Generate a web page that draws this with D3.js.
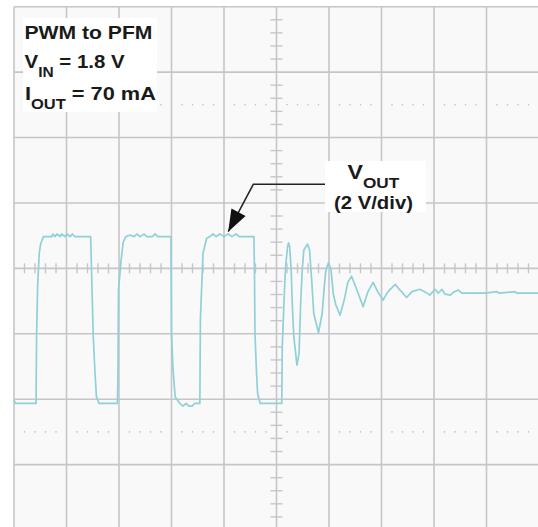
<!DOCTYPE html>
<html lang="en">
<head>
<meta charset="UTF-8">
<title>PWM to PFM - VOUT</title>
<script src="https://d3js.org/d3.v7.min.js"></script>
<style>
  body { margin: 0; background: #fff; }
  svg { display: block; }
  text { font-family: "Liberation Sans", Arial, Helvetica, sans-serif; font-weight: bold; fill: #1a1a1a; }
</style>
</head>
<body>
<svg id="scope" width="538" height="527"></svg>
<script>
// time in screen divisions, VOUT in volts (2 V/div, 0 = screen centre)
const tDiv = [0.00, 0.03, 0.42, 0.43, 0.45, 0.48, 0.51, 0.56, 0.72, 0.74, 0.78, 0.82, 0.88, 0.91, 0.97, 1.01, 1.07, 1.11, 1.16,
  1.46, 1.48, 1.51, 1.54, 1.57, 1.62, 1.97, 1.98, 1.99, 2.04, 2.08, 2.13, 2.21, 2.29, 2.34, 2.40, 2.48, 2.53, 2.63, 2.69, 2.74,
  2.99, 3.00, 3.03, 3.07, 3.16, 3.22, 3.28, 3.33, 3.39, 3.45, 3.54, 3.55, 3.58, 3.60, 3.67, 3.73, 3.79, 3.85, 3.92, 4.00, 4.08,
  4.15, 4.23, 4.29, 4.57, 4.58, 4.59, 4.62, 4.64, 4.69, 5.10, 5.11, 5.13, 5.15, 5.16, 5.18, 5.21, 5.23, 5.25, 5.28, 5.30, 5.33,
  5.39, 5.43, 5.46, 5.49, 5.52, 5.59, 5.63, 5.67, 5.71, 5.80, 5.87, 5.91, 5.94, 5.99, 6.04, 6.08, 6.13, 6.21, 6.29, 6.36, 6.43,
  6.51, 6.65, 6.74, 6.84, 6.93, 7.03, 7.12, 7.26, 7.35, 7.48, 7.58, 7.73, 7.83, 7.92, 8.02, 8.08, 8.15, 8.21, 8.31, 8.38, 8.46,
  8.53, 8.69, 8.97, 9.20, 9.24, 9.54, 9.58, 10.00];
const vOut = [-4.03, -4.13, -4.13, -2.09, -0.56, 0.46, 0.76, 0.97, 0.97, 1.05, 0.97, 1.05, 0.97, 1.05, 0.97, 1.05, 0.97, 1.05, 0.97,
  0.97, -0.26, -2.09, -3.11, -3.93, -4.13, -4.13, -3.31, -0.66, 0.25, 0.80, 0.97, 1.02, 0.97, 1.05, 0.97, 1.05, 0.97, 0.97, 1.05, 0.97,
  0.97, -1.98, -3.11, -3.93, -4.13, -4.21, -4.13, -4.21, -4.21, -4.13, -4.13, -1.58, -0.36, 0.46, 0.92, 0.97, 1.05, 0.97, 1.05, 0.97, 1.05,
  0.97, 1.05, 0.97, 0.97, -0.05, -1.99, -3.21, -3.82, -4.13, -4.13, -2.40, -1.58, -0.76, -0.36, 0.16, 0.66, 0.78, 0.66, -0.05, -1.07, -2.09,
  -2.96, -2.60, -1.07, -0.05, 0.56, 0.74, 0.56, -0.36, -1.38, -1.97, -1.38, -0.56, -0.05, 0.17, -0.05, -0.76, -1.12, -1.43, -0.97, -0.42, -0.24,
  -0.57, -1.17, -0.72, -0.43, -0.72, -0.97, -0.72, -0.49, -0.66, -0.89, -0.71, -0.64, -0.72, -0.82, -0.64, -0.76, -0.64, -0.79, -0.82, -0.72, -0.66,
  -0.76, -0.76, -0.76, -0.71, -0.76, -0.71, -0.76, -0.76];

const xDivs = d3.range(0, 11);          // 10 horizontal divisions
const yVolts = d3.range(-8, 9, 2);      // 8 vertical divisions, 2 V/div
const dotRowsV = [5, -5];               // dotted reference rows (2.5 div)
const arrowTip = { t: 4.08, v: 1.12 };

const svg = d3.select('#scope');
const x = d3.scaleLinear().domain([0, 10]).range([14, 539]);
const y = d3.scaleLinear().domain([-8, 8]).range([530, 6.7]);
const gridColor = '#c6c6ca';

svg.append('rect')
  .attr('x', x(0)).attr('y', y(8))
  .attr('width', x(10) - x(0)).attr('height', y(-8) - y(8))
  .attr('fill', '#f9f9fa');

// dotted rows
const minorT = d3.range(0, 10.001, 0.2).filter(d => Math.abs(d - Math.round(d)) > 0.01);
dotRowsV.forEach(v => {
  svg.append('g').selectAll('circle')
    .data(minorT)
    .enter().append('circle')
    .attr('cx', d => x(d)).attr('cy', y(v))
    .attr('r', 0.8).attr('fill', '#bdbdc2');
});

// grid
svg.append('g').selectAll('line')
  .data(xDivs)
  .enter().append('line')
  .attr('x1', d => x(d)).attr('x2', d => x(d))
  .attr('y1', y(8)).attr('y2', y(-8))
  .attr('stroke', gridColor).attr('stroke-width', 1.6);
svg.append('g').selectAll('line')
  .data(yVolts)
  .enter().append('line')
  .attr('y1', d => y(d)).attr('y2', d => y(d))
  .attr('x1', x(0)).attr('x2', x(10))
  .attr('stroke', gridColor).attr('stroke-width', 1.6);

// centre axis minor ticks
svg.append('g').selectAll('line')
  .data(minorT)
  .enter().append('line')
  .attr('x1', d => x(d)).attr('x2', d => x(d))
  .attr('y1', y(0) - 5).attr('y2', y(0) + 5)
  .attr('stroke', gridColor).attr('stroke-width', 1.4);
const minorV = d3.range(-8, 8.001, 0.4).filter(d => Math.abs(d / 2 - Math.round(d / 2)) > 0.01);
svg.append('g').selectAll('line')
  .data(minorV)
  .enter().append('line')
  .attr('y1', d => y(d)).attr('y2', d => y(d))
  .attr('x1', x(5) - 6).attr('x2', x(5) + 6)
  .attr('stroke', gridColor).attr('stroke-width', 1.4);

// trace
const line = d3.line().x(d => x(d[0])).y(d => y(d[1]));
svg.append('path')
  .datum(d3.zip(tDiv, vOut))
  .attr('d', line)
  .attr('fill', 'none')
  .attr('stroke', '#8fd1d6')
  .attr('stroke-width', 1.7)
  .attr('stroke-linejoin', 'round');

// stretch a text line to the width seen in the reference
function fit(t, w) {
  const b = t.node().getBBox();
  const k = w / b.width;
  t.attr('transform', `translate(${b.x},0) scale(${k},1) translate(${-b.x},0)`);
}

// condition box
svg.append('rect').attr('x', 23).attr('y', 18).attr('width', 134).attr('height', 94).attr('fill', '#fff');
const t1 = svg.append('text').attr('x', 24.5).attr('y', 39.5).attr('font-size', 18.5).text('PWM to PFM');
fit(t1, 128);
const t2 = svg.append('text').attr('x', 24.5).attr('y', 68.5).attr('font-size', 18.5);
t2.append('tspan').text('V');
t2.append('tspan').attr('font-size', 14).attr('dy', 8.5).text('IN');
t2.append('tspan').attr('dy', -8.5).text(' = 1.8 V');
fit(t2, 101);
const t3 = svg.append('text').attr('x', 25).attr('y', 100).attr('font-size', 18.5);
t3.append('tspan').text('I');
t3.append('tspan').attr('font-size', 14).attr('dy', 9.5).text('OUT');
t3.append('tspan').attr('dy', -9.5).text(' = 70 mA');
fit(t3, 131);

// VOUT label with pointer
svg.append('rect').attr('x', 325).attr('y', 161).attr('width', 101).attr('height', 51).attr('fill', '#fff');
const tipX = x(arrowTip.t), tipY = y(arrowTip.v);
const elbow = [253.3, 184.3];
svg.append('path')
  .attr('d', `M325,${elbow[1]}H${elbow[0]}L${tipX},${tipY}`)
  .attr('fill', 'none').attr('stroke', '#222').attr('stroke-width', 1.5);
const ang = Math.atan2(tipY - elbow[1], tipX - elbow[0]);
const hl = 22, hw = 8;
const bx = tipX - hl * Math.cos(ang), by = tipY - hl * Math.sin(ang);
svg.append('path')
  .attr('d', `M${tipX},${tipY}L${bx + hw * Math.sin(ang)},${by - hw * Math.cos(ang)}L${bx - hw * Math.sin(ang)},${by + hw * Math.cos(ang)}Z`)
  .attr('fill', '#111');

const t4 = svg.append('text').attr('x', 347.5).attr('y', 179).attr('font-size', 19.5);
t4.append('tspan').text('V');
t4.append('tspan').attr('font-size', 14.5).attr('dy', 9).text('OUT');
fit(t4, 52);
const t5 = svg.append('text').attr('x', 334).attr('y', 209).attr('font-size', 18).text('(2 V/div)');
fit(t5, 79);
</script>
</body>
</html>
